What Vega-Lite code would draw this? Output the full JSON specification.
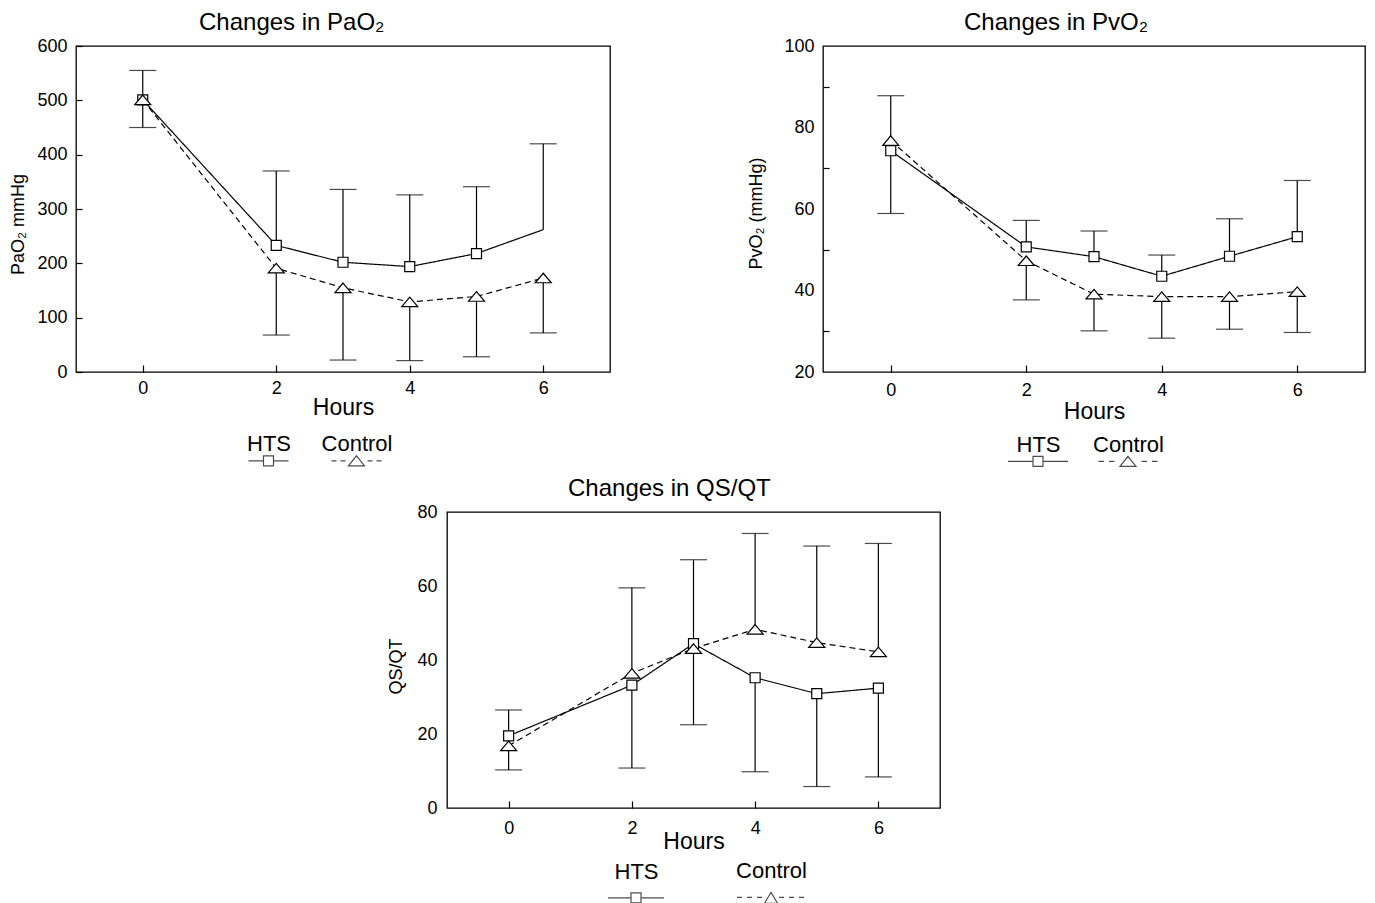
{
  "$schema": "https://vega.github.io/schema/vega-lite/v6.json",
  "background": "white",
  "padding": {"left": 8, "top": 10, "right": 5, "bottom": 5},
  "datasets": {
    "pao2": [
      {"hour": 0, "group": "HTS", "value": 501, "bar": 555},
      {"hour": 2, "group": "HTS", "value": 233, "bar": 370},
      {"hour": 3, "group": "HTS", "value": 202, "bar": 336},
      {"hour": 4, "group": "HTS", "value": 194, "bar": 326},
      {"hour": 5, "group": "HTS", "value": 218, "bar": 341},
      {"hour": 6, "group": "HTS", "value": 262, "bar": 420},
      {"hour": 0, "group": "Control", "value": 501, "bar": 450},
      {"hour": 2, "group": "Control", "value": 191, "bar": 68},
      {"hour": 3, "group": "Control", "value": 155, "bar": 22},
      {"hour": 4, "group": "Control", "value": 129, "bar": 21},
      {"hour": 5, "group": "Control", "value": 139, "bar": 28},
      {"hour": 6, "group": "Control", "value": 173, "bar": 72}
    ],
    "pvo2": [
      {"hour": 0, "group": "HTS", "value": 74.3, "bar": 87.8},
      {"hour": 2, "group": "HTS", "value": 50.7, "bar": 57.2},
      {"hour": 3, "group": "HTS", "value": 48.3, "bar": 54.6},
      {"hour": 4, "group": "HTS", "value": 43.5, "bar": 48.7},
      {"hour": 5, "group": "HTS", "value": 48.4, "bar": 57.6},
      {"hour": 6, "group": "HTS", "value": 53.2, "bar": 67.0},
      {"hour": 0, "group": "Control", "value": 76.8, "bar": 58.9},
      {"hour": 2, "group": "Control", "value": 47.3, "bar": 37.7},
      {"hour": 3, "group": "Control", "value": 39.1, "bar": 30.1},
      {"hour": 4, "group": "Control", "value": 38.5, "bar": 28.3},
      {"hour": 5, "group": "Control", "value": 38.5, "bar": 30.5},
      {"hour": 6, "group": "Control", "value": 39.7, "bar": 29.7}
    ],
    "qsqt": [
      {"hour": 0, "group": "HTS", "value": 19.5, "bar": 26.5},
      {"hour": 2, "group": "HTS", "value": 33.2, "bar": 10.8},
      {"hour": 3, "group": "HTS", "value": 44.4, "bar": 67.1},
      {"hour": 4, "group": "HTS", "value": 35.2, "bar": 9.8},
      {"hour": 5, "group": "HTS", "value": 30.9, "bar": 5.8},
      {"hour": 6, "group": "HTS", "value": 32.4, "bar": 8.4},
      {"hour": 0, "group": "Control", "value": 16.8, "bar": 10.3},
      {"hour": 2, "group": "Control", "value": 36.4, "bar": 59.5},
      {"hour": 3, "group": "Control", "value": 43.1, "bar": 22.5},
      {"hour": 4, "group": "Control", "value": 48.3, "bar": 74.2},
      {"hour": 5, "group": "Control", "value": 44.7, "bar": 70.8},
      {"hour": 6, "group": "Control", "value": 42.2, "bar": 71.5}
    ]
  },
  "spacing": 6,
  "vconcat": [
    {
      "spacing": 135,
      "hconcat": [
        {
          "width": 534,
          "height": 326,
          "title": {"text": "Changes in PaO₂", "dx": 123},
          "data": {"name": "pao2"},
          "encoding": {
            "x": {"field": "hour", "type": "quantitative", "scale": {"domain": [-1, 7], "nice": false},
              "axis": {"values": [0, 2, 4, 6], "title": "Hours", "titleFontSize": 23, "titleBaseline": "alphabetic", "titleY": 42,
                "tickSize": -7, "labelPadding": 28, "labelBaseline": "alphabetic", "labelFontSize": 18}},
            "y": {"field": "value", "type": "quantitative", "scale": {"domain": [0, 600], "nice": false, "zero": false},
              "axis": {"title": "PaO₂ mmHg", "values": [0, 50, 100, 150, 200, 250, 300, 350, 400, 450, 500, 550, 600],
                "labelExpr": "datum.value % 100 == 0 ? datum.label : ''", "tickSize": -6, "labelPadding": 15,
                "titleX": -58, "titleY": 178, "titleAngle": 270, "titleAlign": "center", "titleBaseline": "middle", "titleFontSize": 18, "labelFontSize": 18}}
          },
          "layer": [
            {"mark": {"type": "rule", "color": "black", "strokeWidth": 1.2}, "encoding": {"y2": {"field": "bar"}}},
            {"mark": {"type": "tick", "orient": "horizontal", "color": "black", "size": 27, "thickness": 1.2},
              "encoding": {"y": {"field": "bar", "type": "quantitative", "axis": {"title": "PaO₂ mmHg"}}}},
            {"mark": {"type": "line", "color": "black", "strokeWidth": 1.2},
              "encoding": {"strokeDash": {"field": "group", "type": "nominal", "scale": {"domain": ["HTS", "Control"], "range": [[1, 0], [6, 4]]}, "legend": null}}},
            {"transform": [{"filter": "!(datum.group == 'HTS' && datum.hour == 6)"}],
              "mark": {"type": "point", "filled": true, "fill": "white", "stroke": "black", "strokeWidth": 1.2, "size": 100, "opacity": 1},
              "encoding": {"shape": {"field": "group", "type": "nominal", "scale": {"domain": ["HTS", "Control"], "range": ["square", "M0,-0.95L1.6,0.95H-1.6Z"]}, "legend": null}}},
            {"data": {"values": [{"note": "p=NS"}]},
              "mark": {"type": "text", "align": "left", "baseline": "alphabetic", "fontSize": 17, "color": "black"},
              "encoding": {"x": {"datum": 6.03}, "y": {"datum": 18}, "text": {"field": "note"}}},
            {"transform": [{"filter": "false"}],
              "mark": {"type": "point", "filled": false, "color": "black", "strokeWidth": 1.2},
              "encoding": {"shape": {"field": "group", "type": "nominal",
                "scale": {"domain": ["HTS", "Control"], "range": [
                  "M-0.667,0.333H-0.167M0.167,0.333H0.667M-0.167,0.167H0.167V0.5H-0.167Z",
                  "M-0.833,0.333H-0.667M-0.533,0.333H-0.367M0.367,0.333H0.533M0.667,0.333H0.833M0,0.167L0.267,0.5H-0.267Z"]},
                "legend": {"orient": "none", "legendX": 161.5, "legendY": 373.5, "direction": "horizontal", "title": null,
                  "labelAlign": "center", "labelOffset": -30.5, "labelBaseline": "alphabetic", "labelFontSize": 22,
                  "symbolSize": 3600, "symbolStrokeWidth": 1.2,
                  "columnPadding": 30, "padding": 0}}}}
          ],
          "resolve": {"scale": {"shape": "independent"}}
        },
        {
          "width": 542,
          "height": 326,
          "title": {"text": "Changes in PvO₂", "dx": 141},
          "data": {"name": "pvo2"},
          "encoding": {
            "x": {"field": "hour", "type": "quantitative", "scale": {"domain": [-1, 7], "nice": false},
              "axis": {"values": [0, 2, 4, 6], "title": "Hours", "titleFontSize": 23, "titleBaseline": "alphabetic", "titleY": 46,
                "tickSize": -7, "labelPadding": 30, "labelBaseline": "alphabetic", "labelFontSize": 18}},
            "y": {"field": "value", "type": "quantitative", "scale": {"domain": [20, 100], "nice": false, "zero": false},
              "axis": {"title": "PvO₂ (mmHg)", "values": [20, 30, 40, 50, 60, 70, 80, 90, 100],
                "labelExpr": "datum.value % 20 == 0 ? datum.label : ''",
                "tickOpacity": {"condition": {"test": "datum.value % 20 == 0", "value": 0}, "value": 1},
                "tickSize": -6, "labelPadding": 15,
                "titleX": -67, "titleY": 167, "titleAngle": 270, "titleAlign": "center", "titleBaseline": "middle", "titleFontSize": 18, "labelFontSize": 18}}
          },
          "layer": [
            {"mark": {"type": "rule", "color": "black", "strokeWidth": 1.2}, "encoding": {"y2": {"field": "bar"}}},
            {"mark": {"type": "tick", "orient": "horizontal", "color": "black", "size": 27, "thickness": 1.2},
              "encoding": {"y": {"field": "bar", "type": "quantitative", "axis": {"title": "PvO₂ (mmHg)"}}}},
            {"mark": {"type": "line", "color": "black", "strokeWidth": 1.2},
              "encoding": {"strokeDash": {"field": "group", "type": "nominal", "scale": {"domain": ["HTS", "Control"], "range": [[1, 0], [6, 4]]}, "legend": null}}},
            {"mark": {"type": "point", "filled": true, "fill": "white", "stroke": "black", "strokeWidth": 1.2, "size": 100, "opacity": 1},
              "encoding": {"shape": {"field": "group", "type": "nominal", "scale": {"domain": ["HTS", "Control"], "range": ["square", "M0,-0.95L1.6,0.95H-1.6Z"]}, "legend": null}}},
            {"data": {"values": [{"note": "p=NS"}]},
              "mark": {"type": "text", "align": "left", "baseline": "alphabetic", "fontSize": 17, "color": "black"},
              "encoding": {"x": {"datum": 6.1}, "y": {"datum": 22}, "text": {"field": "note"}}},
            {"transform": [{"filter": "false"}],
              "mark": {"type": "point", "filled": false, "color": "black", "strokeWidth": 1.2},
              "encoding": {"shape": {"field": "group", "type": "nominal",
                "scale": {"domain": ["HTS", "Control"], "range": [
                  "M-0.968,0.29H-0.161M0.161,0.29H0.968M-0.161,0.129H0.161V0.452H-0.161Z",
                  "M-0.952,0.29H-0.774M-0.613,0.29H-0.435M0.435,0.29H0.613M0.774,0.29H0.952M0,0.129L0.258,0.452H-0.258Z"]},
                "legend": {"orient": "none", "legendX": 183, "legendY": 374, "direction": "horizontal", "title": null,
                  "labelAlign": "center", "labelOffset": -31.5, "labelBaseline": "alphabetic", "labelFontSize": 22,
                  "symbolSize": 3844, "symbolStrokeWidth": 1.2,
                  "columnPadding": 22, "padding": 0}}}}
          ],
          "resolve": {"scale": {"shape": "independent"}}
        }
      ]
    },
    {
      "spacing": 0,
      "hconcat": [
        {"width": 310, "height": 10, "data": {"values": []}, "mark": "point", "view": {"stroke": null}},
        {
          "width": 493,
          "height": 296,
          "title": {"text": "Changes in QS/QT", "dx": 121},
          "data": {"name": "qsqt"},
          "encoding": {
            "x": {"field": "hour", "type": "quantitative", "scale": {"domain": [-1, 7], "nice": false},
              "axis": {"values": [0, 2, 4, 6], "title": "Hours", "titleFontSize": 23, "titleBaseline": "alphabetic", "titleY": 40,
                "tickSize": -7, "labelPadding": 32, "labelBaseline": "alphabetic", "labelFontSize": 18}},
            "y": {"field": "value", "type": "quantitative", "scale": {"domain": [0, 80], "nice": false, "zero": false},
              "axis": {"title": "QS/QT", "values": [0, 10, 20, 30, 40, 50, 60, 70, 80],
                "labelExpr": "datum.value % 20 == 0 ? datum.label : ''",
                "tickOpacity": {"condition": {"test": "datum.value % 20 == 0", "value": 0}, "value": 1},
                "tickSize": -6, "labelPadding": 16,
                "titleX": -51, "titleY": 154, "titleAngle": 270, "titleAlign": "center", "titleBaseline": "middle", "titleFontSize": 18, "labelFontSize": 18}}
          },
          "layer": [
            {"mark": {"type": "rule", "color": "black", "strokeWidth": 1.2}, "encoding": {"y2": {"field": "bar"}}},
            {"mark": {"type": "tick", "orient": "horizontal", "color": "black", "size": 27, "thickness": 1.2},
              "encoding": {"y": {"field": "bar", "type": "quantitative", "axis": {"title": "QS/QT"}}}},
            {"mark": {"type": "line", "color": "black", "strokeWidth": 1.2},
              "encoding": {"strokeDash": {"field": "group", "type": "nominal", "scale": {"domain": ["HTS", "Control"], "range": [[1, 0], [6, 4]]}, "legend": null}}},
            {"mark": {"type": "point", "filled": true, "fill": "white", "stroke": "black", "strokeWidth": 1.2, "size": 100, "opacity": 1},
              "encoding": {"shape": {"field": "group", "type": "nominal", "scale": {"domain": ["HTS", "Control"], "range": ["square", "M0,-0.95L1.6,0.95H-1.6Z"]}, "legend": null}}},
            {"data": {"values": [{"note": "p=NS"}]},
              "mark": {"type": "text", "align": "left", "baseline": "alphabetic", "fontSize": 17, "color": "black"},
              "encoding": {"x": {"datum": 6.04}, "y": {"datum": 1.9}, "text": {"field": "note"}}},
            {"transform": [{"filter": "false"}],
              "mark": {"type": "point", "filled": false, "color": "black", "strokeWidth": 1.2},
              "encoding": {"shape": {"field": "group", "type": "nominal",
                "scale": {"domain": ["HTS", "Control"], "range": [
                  "M-0.8,0.543H-0.143M0.143,0.543H0.8M-0.143,0.4H0.143V0.686H-0.143Z",
                  "M-0.971,0.543H-0.829M-0.686,0.543H-0.543M-0.4,0.543H-0.257M0.229,0.543H0.371M0.514,0.543H0.657M0.8,0.543H0.943M0,0.4L0.186,0.714H-0.186Z"]},
                "legend": {"orient": "none", "legendX": 153, "legendY": 330, "direction": "horizontal", "title": null,
                  "labelAlign": "center", "labelOffset": -35.5, "labelBaseline": "alphabetic", "labelFontSize": 22,
                  "symbolSize": 4900, "symbolStrokeWidth": 1.2,
                  "columnPadding": 67, "padding": 0}}}}
          ],
          "resolve": {"scale": {"shape": "independent"}}
        }
      ]
    }
  ],
  "config": {
    "font": "Liberation Sans",
    "view": {"stroke": "black", "strokeWidth": 1.3},
    "axis": {"grid": false, "domain": false, "labelColor": "black", "tickColor": "black", "tickWidth": 1.2, "titleColor": "black", "titleFontWeight": "normal", "labelFont": "Liberation Sans", "titleFont": "Liberation Sans"},
    "title": {"fontSize": 24, "fontWeight": "normal", "color": "black", "anchor": "start", "frame": "group", "baseline": "alphabetic", "offset": 2, "font": "Liberation Sans"},
    "legend": {"labelFont": "Liberation Sans", "labelColor": "black"}
  }
}
